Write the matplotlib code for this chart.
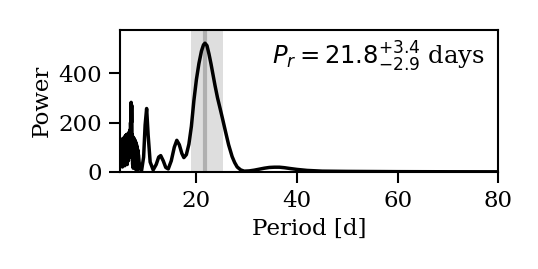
import matplotlib
matplotlib.use("Agg")
import matplotlib.pyplot as plt
import numpy as np

plt.rcParams['font.family'] = 'DejaVu Serif'
plt.rcParams['mathtext.fontset'] = 'dejavusans'
plt.rcParams['font.size'] = 16.5

# short-period "forest" of the periodogram (days, power)
forest_period = [4.80, 4.86, 4.92, 4.98, 5.04, 5.10, 5.16, 5.22, 5.28, 5.34,
                 5.40, 5.46, 5.52, 5.58, 5.64, 5.70, 5.76, 5.82, 5.88, 5.94,
                 6.00, 6.06, 6.12, 6.18, 6.24, 6.30, 6.36, 6.42, 6.48, 6.54,
                 6.60, 6.66, 6.72, 6.78, 6.84, 6.90, 6.96, 7.02, 7.08, 7.14,
                 7.20, 7.26, 7.32, 7.38, 7.44, 7.50, 7.56, 7.62, 7.68, 7.74,
                 7.80, 7.86, 7.92, 7.98, 8.04, 8.10, 8.16, 8.22, 8.28, 8.34,
                 8.40, 8.46]
forest_power = [60, 120, 40, 125, 30, 118, 50, 130, 20, 135,
                45, 132, 35, 138, 55, 140, 25, 145, 60, 148,
                40, 150, 70, 152, 30, 150, 80, 155, 45, 158,
                90, 162, 60, 170, 110, 200, 150, 282, 200, 270,
                120, 150, 30, 140, 15, 138, 60, 135, 20, 130,
                50, 125, 10, 118, 40, 110, 15, 100, 35, 90,
                10, 70]

# rest of the periodogram
period = [8.6, 8.8, 9.1, 9.5, 9.8, 10.1, 10.4, 10.8, 11.4, 12.0, 12.5,
          12.9, 13.4, 13.9, 14.4, 15.0, 15.6, 16.1, 16.6, 17.1, 17.5, 18.0,
          18.5, 19.0, 19.5, 20.0, 20.5, 21.0, 21.4, 21.7, 22.1, 22.5, 22.9,
          23.3, 23.7, 24.2, 24.7, 25.2, 25.8, 26.4, 27.1, 27.6, 28.1, 28.8,
          29.5, 30.5, 31.5, 32.5, 33.5, 34.5, 35.5, 36.5, 37.5, 38.5, 40.0,
          42.0, 45.0, 50.0, 60.0, 70.0, 80.0]
power = [40, 15, 6, 60, 190, 257, 150, 40, 8, 30, 60,
         66, 45, 18, 12, 45, 100, 128, 110, 75, 58, 70,
         112, 185, 290, 375, 440, 490, 515, 522, 512, 478, 438,
         394, 350, 300, 258, 215, 162, 110, 62, 38, 20, 8,
         3, 4, 7, 11, 15, 18, 19, 19, 17, 14, 10,
         6, 3, 2, 1, 0.5, 0.3]

p_rot = 21.8
p_err_hi = 3.4
p_err_lo = 2.9

fig = plt.figure(figsize=(5.38, 2.69), dpi=100)
ax = fig.add_axes([0.223, 0.361, 0.703, 0.527])

ax.axvspan(p_rot - p_err_lo, p_rot + p_err_hi, color='#dedede', lw=0, zorder=0)
ax.axvline(p_rot, color='#b0b0b0', lw=3, zorder=1)
ax.plot(forest_period + period, forest_power + power, color='k', lw=2.5,
        zorder=2, solid_joinstyle='round')

ax.set_xlim(4.8, 80)
ax.set_ylim(0, 575)
ax.set_xticks([20, 40, 60, 80])
ax.set_yticks([0, 200, 400])
ax.set_xlabel('Period [d]')
ax.set_ylabel('Power')
ax.tick_params(length=8, width=1.5, pad=5)
for s in ax.spines.values():
    s.set_linewidth(1.5)

ax.text(0.965, 0.93, r'$P_r = %.1f^{+%.1f}_{-%.1f}$ days' % (p_rot, p_err_hi, p_err_lo),
        transform=ax.transAxes, ha='right', va='top', fontsize=17.5)

fig.savefig('out.png', dpi=100)
